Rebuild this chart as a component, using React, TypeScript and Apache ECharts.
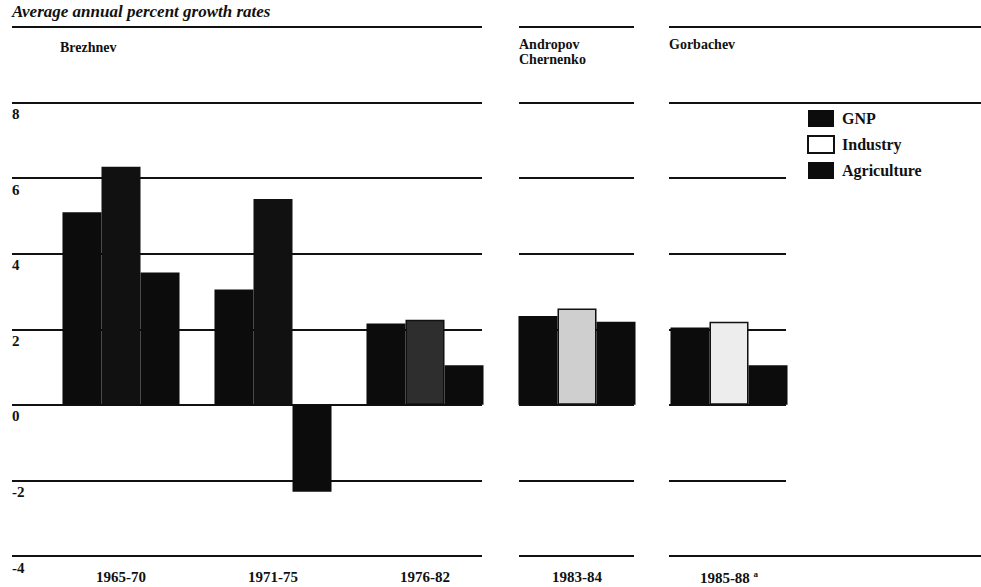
import React, { useEffect, useRef } from "react";
import * as echarts from "echarts";

const periods = ["1965-70", "1971-75", "1976-82", "1983-84", "1985-88"];
const gnp = [5.1, 3.05, 2.15, 2.35, 2.05];
const industry = [6.3, 5.45, 2.25, 2.55, 2.2];
const agriculture = [3.5, -2.3, 1.05, 2.2, 1.05];
const industryFills = ["#111111", "#111111", "#2e2e2e", "#cfcfcf", "#ededed"];
const yMin = -4;
const yMax = 10;
const yStep = 2;
const leaders = [
  { text: "Brezhnev", x: 60, y: 40 },
  { text: "Andropov\nChernenko", x: 519, y: 37 },
  { text: "Gorbachev", x: 669, y: 37 },
];

const FONT = "'Liberation Serif', 'DejaVu Serif', serif";
const INK = "#111111";

export default function App() {
  const ref = useRef<HTMLDivElement>(null);
  useEffect(() => {
    if (!ref.current) return;
    const chart = echarts.init(ref.current, undefined, { renderer: "svg" });
    const top = 27;
    const bottom = 31;
    const lineGrids = [
      { left: 12, width: 470, interval: yStep, labels: true },
      { left: 519, width: 115, interval: yStep, labels: false },
      { left: 669, width: 117, interval: yStep, labels: false },
      { left: 669, width: 312, interval: 12, labels: false },
    ];
    const grid: any[] = [{ left: 45, right: 176, top, bottom }];
    const xAxis: any[] = [
      {
        type: "category",
        data: periods.map((p, i) => (i === periods.length - 1 ? p + " {sup|a}" : p)),
        gridIndex: 0,
        axisLine: { show: false },
        axisTick: { show: false },
        axisLabel: {
          margin: 13,
          color: INK,
          fontFamily: FONT,
          fontWeight: "bold",
          fontSize: 15,
          rich: {
            sup: { fontSize: 9, fontWeight: "bold", fontFamily: FONT, color: INK, verticalAlign: "top", padding: [0, 0, 8, 0] },
          },
        },
      },
    ];
    const yAxis: any[] = [
      { type: "value", gridIndex: 0, min: yMin, max: yMax, interval: yStep, show: false },
    ];
    lineGrids.forEach((g, i) => {
      grid.push({ left: g.left, width: g.width, top, bottom });
      xAxis.push({ type: "value", gridIndex: i + 1, min: 0, max: 1, show: false });
      yAxis.push({
        type: "value",
        gridIndex: i + 1,
        min: yMin,
        max: yMax,
        interval: g.interval,
        axisLine: { show: false },
        axisTick: { show: false },
        axisLabel: {
          show: g.labels,
          inside: true,
          margin: 0,
          align: "left",
          verticalAlign: "top",
          padding: [4, 0, 0, 0],
          color: INK,
          fontFamily: FONT,
          fontWeight: "bold",
          fontSize: 15,
          formatter: (v: number) => (v === yMax ? "" : String(v)),
        },
        splitLine: { show: true, lineStyle: { color: INK, width: 2 } },
      });
    });

    const solid = { color: "#0c0c0c" };
    chart.setOption({
      animation: false,
      backgroundColor: "#ffffff",
      title: {
        text: "Average annual percent growth rates",
        left: 12,
        top: 3,
        padding: 0,
        textStyle: { fontFamily: FONT, fontStyle: "italic", fontWeight: "bold", fontSize: 17, color: INK },
      },
      legend: {
        orient: "vertical",
        left: 807,
        top: 110,
        padding: 0,
        itemWidth: 26,
        itemHeight: 17,
        itemGap: 8,
        icon: "rect",
        textStyle: { fontFamily: FONT, fontWeight: "bold", fontSize: 16, color: INK, padding: [0, 0, 0, 3] },
        data: [
          { name: "GNP" },
          { name: "Industry", itemStyle: { color: "#ffffff", borderColor: INK, borderWidth: 2 } },
          { name: "Agriculture" },
        ],
      },
      grid,
      xAxis,
      yAxis,
      graphic: leaders.map((l) => ({
        type: "text",
        left: l.x,
        top: l.y,
        style: { text: l.text, fontFamily: FONT, fontWeight: "bold", fontSize: 14, fill: INK, lineHeight: 15 },
      })),
      series: [
        {
          name: "GNP",
          type: "bar",
          xAxisIndex: 0,
          yAxisIndex: 0,
          data: gnp,
          itemStyle: solid,
          barGap: "0%",
          barCategoryGap: "23%",
          z: 3,
        },
        {
          name: "Industry",
          type: "bar",
          xAxisIndex: 0,
          yAxisIndex: 0,
          data: industry.map((v, i) => ({
            value: v,
            itemStyle: { color: industryFills[i], borderColor: INK, borderWidth: i >= 2 ? 1.5 : 0 },
          })),
          itemStyle: { color: "#ffffff", borderColor: INK, borderWidth: 2 },
          barGap: "0%",
          barCategoryGap: "23%",
          z: 3,
        },
        {
          name: "Agriculture",
          type: "bar",
          xAxisIndex: 0,
          yAxisIndex: 0,
          data: agriculture,
          itemStyle: solid,
          barGap: "0%",
          barCategoryGap: "23%",
          z: 3,
        },
      ],
    });
    return () => chart.dispose();
  }, []);
  return <div ref={ref} style={{ width: 981, height: 587, position: "absolute", left: 0, top: 0 }} />;
}
